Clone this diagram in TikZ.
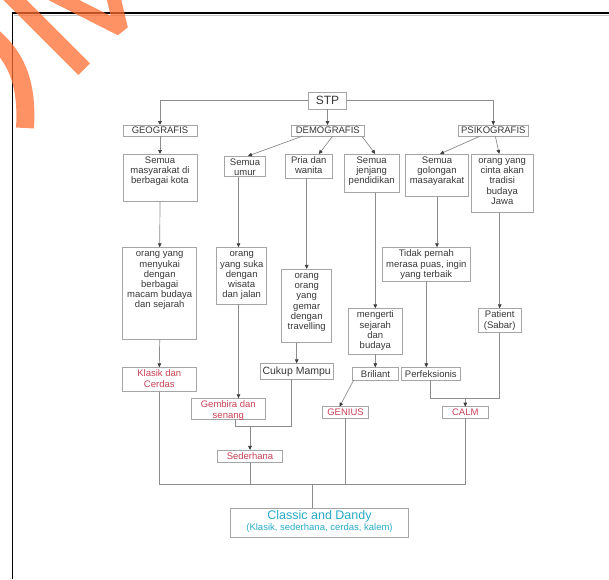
\documentclass[tikz,border=0pt]{standalone}
\usepackage{fontspec}
\setmainfont{Liberation Sans}
\usetikzlibrary{arrows.meta,calc}
\definecolor{boxc}{RGB}{165,165,165}
\definecolor{linec}{RGB}{140,140,140}
\definecolor{txt}{RGB}{55,55,55}
\definecolor{tipc}{RGB}{60,60,60}
\definecolor{redt}{RGB}{200,65,85}
\definecolor{cyant}{RGB}{40,170,200}
\definecolor{wm}{RGB}{255,110,50}
\newcommand\tb[3]{\parbox[c][#2pt][t]{#1pt}{\centering\rule{0pt}{9.5pt}#3}}
\begin{document}
\begin{tikzpicture}[x=1pt,y=-1pt,
  base/.style={draw=boxc,line width=0.8pt,inner sep=0pt,outer sep=0pt,text=txt,
    font=\fontsize{9.5}{10.2}\selectfont},
  one/.style n args={2}{base,minimum width=#1,minimum height=#2},
  redtext/.style={text=redt},
  arr/.style={draw=linec,line width=0.7pt,-{Triangle[length=4pt,width=3.6pt,color=tipc]}},
  ln/.style={draw=linec,line width=0.7pt}]
\useasboundingbox (0,0) rectangle (609,579);
% frame
\draw[gray!45,line width=1.2pt] (13.5,15.8) -- (609,15.8);
\draw[black,line width=1.8pt] (12.5,579) -- (12.5,12.7) -- (609,12.7);
% level 0/1
\node[one={38.4pt}{17pt},font=\fontsize{12}{13}\selectfont] (stp) at (327.5,100.8) {STP};
\node[one={74pt}{11pt}] (geo) at (160,130.5) {GEOGRAFIS};
\node[one={72.3pt}{11pt}] (demo) at (327.8,130.5) {DEMOGRAFIS};
\node[one={70pt}{11pt}] (psiko) at (493.3,130.5) {PSIKOGRAFIS};
% level 2
\node[base] (geo1) at (160,177.5) {\tb{74}{47}{Semua\\masyarakat di\\berbagai kota}};
\node[base] (umur) at (245,166.3) {\tb{41.4}{20.7}{Semua\\umur}};
\node[base] (pria) at (308.8,166.2) {\tb{47}{24.3}{Pria dan\\wanita}};
\node[base] (jenjang) at (371.7,173.3) {\tb{55.3}{38.7}{Semua\\jenjang\\pendidikan}};
\node[base] (golongan) at (437,175.3) {\tb{62.6}{42.7}{Semua\\golongan\\masayarakat}};
\node[base] (tradisi) at (502.2,183.3) {\tb{62.3}{58.7}{orang yang\\cinta akan\\tradisi\\budaya\\Jawa}};
% level 3
\node[base] (geo2) at (159.7,293.3) {\tb{74}{92}{orang yang\\menyukai\\dengan\\berbagai\\macam budaya\\dan sejarah}};
\node[base] (wisata) at (241.7,275.8) {\tb{50}{57}{orang\\yang suka\\dengan\\wisata\\dan jalan}};
\node[base] (travel) at (306.7,305.8) {\tb{50}{73.7}{orang\\orang\\yang\\gemar\\dengan\\travelling}};
\node[base] (tidak) at (426.3,264.5) {\tb{87.3}{34.4}{Tidak pernah\\merasa puas, ingin\\yang terbaik}};
\node[base] (mengerti) at (375.3,331.3) {\tb{54}{46}{mengerti\\sejarah\\dan\\budaya}};
\node[base] (patient) at (499.7,320.5) {\tb{42.7}{24.4}{Patient\\(Sabar)}};
% level 4
\node[base,redtext] (klasik) at (159.3,379.5) {\tb{73.3}{24.4}{Klasik dan\\Cerdas}};
\node[one={73.3pt}{16pt},font=\fontsize{10.5}{11}\selectfont] (cukup) at (296.7,371.3) {Cukup Mampu};
\node[one={45.6pt}{12.7pt}] (briliant) at (375.5,373.7) {Briliant};
\node[one={58.3pt}{12.7pt}] (perfek) at (430.8,373.7) {Perfeksionis};
\node[base,redtext] (gembira) at (228.3,408.8) {\tb{73.3}{21}{Gembira dan\\senang}};
\node[one={45.6pt}{11.6pt},redtext] (genius) at (345.5,412.5) {GENIUS};
\node[one={46pt}{11.6pt},redtext] (calm) at (465.3,412.5) {CALM};
\node[one={65.4pt}{12.7pt},redtext] (sederhana) at (250,456.3) {Sederhana};
\node[base,text=cyant] (classic) at (319.5,523) {\parbox[c][29.4pt][t]{177.6pt}{\centering\rule{0pt}{11pt}{\fontsize{12.5}{13}\selectfont Classic and Dandy}\\ \fontsize{9.5}{10.7}\selectfont (Klasik, sederhana, cerdas, kalem)}};
% connectors
\draw[arr] (stp.west) -| (geo.north);
\draw[arr] (stp.south) -- (stp.south |- demo.north);
\draw[arr] (stp.east) -| (psiko.north);
\draw[arr] (geo.south) -- (geo1.north);
\draw[arr] ([xshift=-25pt]demo.south) -- ([xshift=3pt]umur.north);
\draw[arr] ([xshift=5pt]demo.south) -- ([xshift=10pt]pria.north);
\draw[arr] ([xshift=34pt]demo.south) -- ([xshift=3.5pt]jenjang.north);
\draw[arr] ([xshift=-13pt]psiko.south) -- ([xshift=3pt]golongan.north);
\draw[arr] ([xshift=2pt]psiko.south) -- ([xshift=-3pt]tradisi.north);
\draw[arr] (geo1.south) -- (geo2.north);
\coordinate (u1) at (238.5,0);
\draw[arr] (u1 |- umur.south) -- (u1 |- wisata.north);
\draw[arr] (travel.north |- pria.south) -- (travel.north);
\draw[arr] (mengerti.north |- jenjang.south) -- (mengerti.north);
\draw[arr] (golongan.south) -- (golongan.south |- tidak.north);
\draw[arr] (patient.north |- tradisi.south) -- (patient.north);
\draw[arr] (geo2.south) -- (klasik.north);
\draw[arr] (u1 |- wisata.south) -- (u1 |- gembira.north);
\draw[arr] (cukup.north |- travel.south) -- (cukup.north);
\draw[arr] (mengerti.south) -- (mengerti.south |- briliant.north);
\draw[arr] (tidak.south) -- (tidak.south |- perfek.north);
\draw[arr] ([xshift=1pt]briliant.south west) -- ([xshift=-6pt]genius.north);
\coordinate (j1) at (250,426);
\draw[ln] ([xshift=6.7pt]gembira.south) |- (j1) -| ([xshift=-5pt]cukup.south);
\draw[arr] (j1) -- (sederhana.north);
\coordinate (j2) at (465.3,398.3);
\draw[ln] (perfek.south) |- (j2) -| (patient.south);
\draw[arr] (j2) -- (calm.north);
\coordinate (j3) at (312.3,484.3);
\draw[ln] (klasik.south) |- (j3) -| (calm.south);
\draw[ln] (sederhana.south) -- (sederhana.south |- j3);
\draw[ln] (genius.south) -- (genius.south |- j3);
\draw[ln] (j3) -- (j3 |- classic.north);
% watermark
\begin{scope}
\clip (0,0) rectangle (609,579);
\draw[wm,opacity=0.75,line width=16.5pt] (4,-11) -- (84.2,69.2);
\draw[wm,opacity=0.75,line width=14pt,line join=bevel] (50,-7) -- (121,29) -- (112,-9);
\draw[wm,opacity=0.75,line width=18pt] (-6,38) .. controls (14,56) and (28,80) .. (25,128);
\end{scope}
\end{tikzpicture}
\end{document}
